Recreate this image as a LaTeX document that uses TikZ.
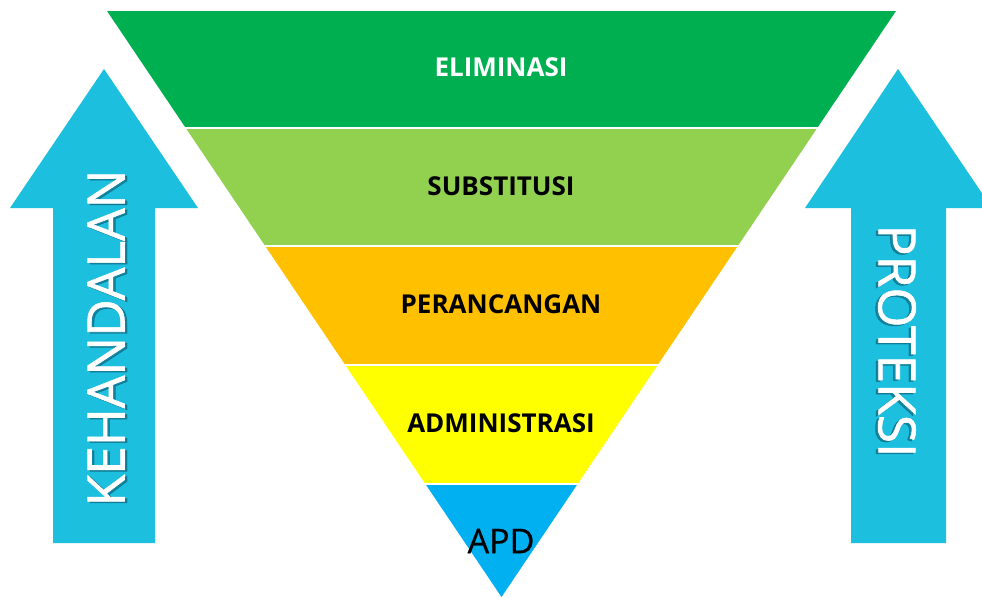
\documentclass[tikz,border=0pt]{standalone}
\usepackage{fontspec}
\setmainfont{Open Sans}
\newfontfamily\arrowfont[FakeBold=1.2]{Open Sans}
\newfontfamily\apdfont[FakeBold=0.6]{Open Sans}
\definecolor{cA}{HTML}{00B050}
\definecolor{cB}{HTML}{92D050}
\definecolor{cC}{HTML}{FFC000}
\definecolor{cD}{HTML}{FFFF00}
\definecolor{cE}{HTML}{00B0F0}
\definecolor{arrowc}{HTML}{1DBFDF}
\definecolor{shadowc}{HTML}{0B4F62}
\begin{document}
\begin{tikzpicture}[x=1pt,y=-1pt,
  bandlabel/.style={font=\bfseries\fontsize{26}{29}\selectfont,inner sep=0pt,anchor=center},
  arrowshape/.style={fill=arrowc,draw=none},
  arrowtext/.style={font=\arrowfont\fontsize{51.5}{55}\selectfont,text=white,inner sep=0pt},
  arrowshadow/.style={font=\arrowfont\fontsize{51.5}{55}\selectfont,text=shadowc,opacity=0.5,inner sep=0pt}]
\useasboundingbox (0,0) rectangle (982,597);
\fill[white] (0,0) rectangle (982,597);
% triangle geometry: top y=11 from x=107 to 896, apex (501.5,597); half width = 0.67321*(597-y)
\begin{scope}
\clip (0,0) rectangle (982,597);
% arrows
\path[arrowshape] (104,69) -- (198,208) -- (155,208) -- (155,543) -- (53,543) -- (53,208) -- (10,208) -- cycle;
\path[arrowshape] (898,69) -- (992,208) -- (946,208) -- (946,543) -- (851,543) -- (851,208) -- (805,208) -- cycle;
% bands
\fill[cA] (107,11) -- (896,11) -- ({501.5+0.67321*(597-128)},128) -- ({501.5-0.67321*(597-128)},128) -- cycle;
\fill[cB] ({501.5-0.67321*(597-128)},128) -- ({501.5+0.67321*(597-128)},128) -- ({501.5+0.67321*(597-246)},246) -- ({501.5-0.67321*(597-246)},246) -- cycle;
\fill[cC] ({501.5-0.67321*(597-246)},246) -- ({501.5+0.67321*(597-246)},246) -- ({501.5+0.67321*(597-365)},365) -- ({501.5-0.67321*(597-365)},365) -- cycle;
\fill[cD] ({501.5-0.67321*(597-365)},365) -- ({501.5+0.67321*(597-365)},365) -- ({501.5+0.67321*(597-484)},484) -- ({501.5-0.67321*(597-484)},484) -- cycle;
\fill[cE] ({501.5-0.67321*(597-484)},484) -- ({501.5+0.67321*(597-484)},484) -- (501.5,597) -- cycle;
\foreach \yy in {128,246,365,484}
  \draw[white,line width=2.2pt] ({501.5-0.67321*(597-\yy)-3},\yy) -- ({501.5+0.67321*(597-\yy)+3},\yy);
\end{scope}
% labels
\node[bandlabel,text=white] (elim) at (501,67) {ELIMINASI};
\node[bandlabel] (subs) at (501,186) {SUBSTITUSI};
\node[bandlabel] (peran) at (501,304) {PERANCANGAN};
\node[bandlabel] (admin) at (501,423) {ADMINISTRASI};
\node[font=\apdfont\fontsize{34}{38}\selectfont,inner sep=0pt] (apd) at (501,541) {APD};
% arrow texts
\node[arrowshadow,rotate=90] at (108.5,339.5) {KEHANDALAN};
\node[arrowtext,rotate=90] (keh) at (106,338) {KEHANDALAN};
\node[arrowshadow,rotate=-90] at (894.5,342.5) {PROTEKSI};
\node[arrowtext,rotate=-90] (prot) at (897,341) {PROTEKSI};
\end{tikzpicture}
\end{document}
